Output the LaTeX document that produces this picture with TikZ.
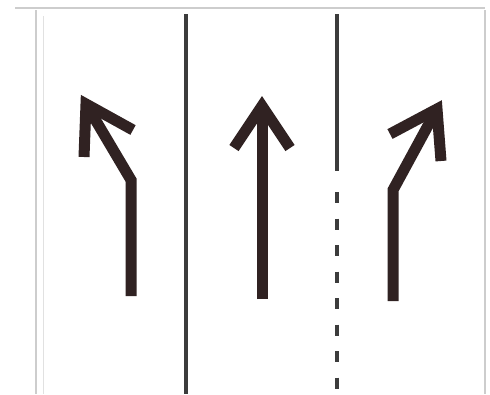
\documentclass[tikz,border=0pt]{standalone}
\definecolor{arrowc}{RGB}{48,34,34}
\definecolor{lanec}{RGB}{60,60,60}
\definecolor{borderc}{RGB}{205,205,205}
\tikzset{
  arrowline/.style={draw=arrowc, line width=11pt, line join=miter, miter limit=10},
  laneline/.style={draw=lanec, line width=3.2pt},
  borderline/.style={draw=borderc, line width=1.6pt}
}
\begin{document}
\begin{tikzpicture}[x=1pt,y=-1pt]
\useasboundingbox (0,0) rectangle (490,394);
\fill[white] (0,0) rectangle (490,394);
% borders
\draw[borderline] (15,8) -- (485,8);
\draw[borderline] (36,10) -- (36,394);
\draw[borderline] (485,10) -- (485,394);
\draw[draw=borderc!60, line width=0.8pt] (43,16) -- (43,394);
% lane lines
\draw[laneline] (186,14) -- (186,394);
\draw[laneline] (337,14) -- (337,171);
\draw[laneline, dash pattern=on 11pt off 15.5pt] (337,192) -- (337,394);
% left arrow
\coordinate (lt) at (86,104);
\draw[arrowline] (131,296) -- (131,180) -- (lt);
\draw[arrowline] (84,157) -- (lt) -- (133,130);
% middle arrow
\coordinate (mt) at (262,106);
\draw[arrowline] (262,299) -- (mt);
\draw[arrowline] (234,148) -- (mt) -- (290,148);
% right arrow
\coordinate (rt) at (437,109);
\draw[arrowline] (393,301) -- (393,190) -- (rt);
\draw[arrowline] (390,134) -- (rt) -- (441,161);
\end{tikzpicture}
\end{document}
